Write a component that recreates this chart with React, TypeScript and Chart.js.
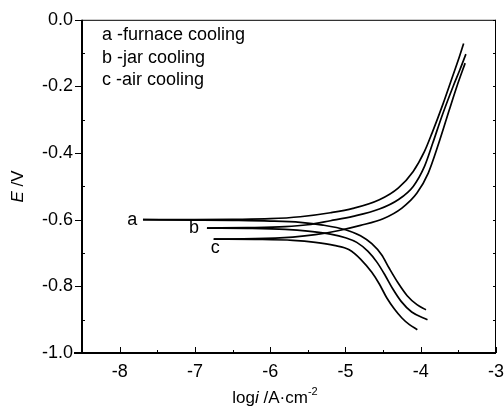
import React, { useEffect, useRef } from "react";
import { Chart, registerables } from "chart.js";

Chart.register(...registerables);

// x = log i (A/cm2), y = E (V)
const aAnodicX = [-7.69, -7.0, -6.5, -6.0, -5.6, -5.2, -4.9, -4.55, -4.3, -4.1, -3.95, -3.85, -3.7, -3.6, -3.5, -3.43];
const aAnodicY = [-0.6, -0.6, -0.599, -0.597, -0.591, -0.579, -0.566, -0.54, -0.505, -0.455, -0.395, -0.34, -0.25, -0.185, -0.12, -0.071];
const bAnodicX = [-6.84, -6.3, -5.8, -5.5, -5.2, -4.9, -4.55, -4.3, -4.1, -3.95, -3.84, -3.72, -3.57, -3.48, -3.4];
const bAnodicY = [-0.625, -0.624, -0.621, -0.615, -0.603, -0.59, -0.568, -0.54, -0.5, -0.44, -0.37, -0.29, -0.2, -0.15, -0.103];
const cAnodicX = [-6.75, -6.2, -5.7, -5.4, -5.1, -4.8, -4.5, -4.25, -4.05, -3.9, -3.76, -3.62, -3.52, -3.41];
const cAnodicY = [-0.658, -0.657, -0.652, -0.645, -0.633, -0.617, -0.597, -0.565, -0.52, -0.46, -0.37, -0.27, -0.2, -0.13];

const aCathodicX = [-7.69, -7.0, -6.5, -6.0, -5.6, -5.3, -5.0, -4.8, -4.65, -4.52, -4.42, -4.3, -4.18, -4.05, -3.93];
const aCathodicY = [-0.6, -0.601, -0.602, -0.604, -0.608, -0.616, -0.63, -0.648, -0.672, -0.705, -0.745, -0.79, -0.828, -0.855, -0.87];
const bCathodicX = [-6.84, -6.3, -5.8, -5.5, -5.2, -5.0, -4.85, -4.7, -4.58, -4.47, -4.37, -4.26, -4.12, -3.91];
const bCathodicY = [-0.625, -0.626, -0.629, -0.634, -0.643, -0.654, -0.668, -0.695, -0.728, -0.768, -0.808, -0.845, -0.877, -0.9];
const cCathodicX = [-6.75, -6.2, -5.7, -5.4, -5.15, -4.95, -4.8, -4.65, -4.55, -4.45, -4.35, -4.25, -4.15, -4.045];
const cCathodicY = [-0.658, -0.659, -0.662, -0.668, -0.677, -0.69, -0.718, -0.758, -0.793, -0.835, -0.868, -0.895, -0.915, -0.93];

const xTicks = [-8, -7, -6, -5, -4, -3];
const xMinorTicks = [-8.5, -7.5, -6.5, -5.5, -4.5, -3.5];
const yTicks = [0, -0.2, -0.4, -0.6, -0.8, -1.0];
const yMinorTicks = [-0.1, -0.3, -0.5, -0.7, -0.9];

const legendLines = ["a -furnace cooling", "b -jar cooling", "c -air cooling"];
const curveLabels = ["a", "b", "c"];
const curveLabelX = [-7.9, -7.08, -6.79];
const curveLabelY = [-0.617, -0.639, -0.699];

const FONT = "'Liberation Sans', Arial, sans-serif";

function toPoints(xs: number[], ys: number[]) {
  return xs.map((x, i) => ({ x, y: ys[i] }));
}

const decoPlugin = {
  id: "deco",
  afterDraw(chart: any) {
    const ctx = chart.ctx;
    const { left, right, top, bottom } = chart.chartArea;
    const xs = chart.scales.x;
    const ys = chart.scales.y;
    ctx.save();
    ctx.strokeStyle = "#000";
    ctx.lineCap = "butt";
    // frame
    ctx.lineWidth = 1;
    ctx.beginPath();
    ctx.moveTo(left, top + 0.5);
    ctx.lineTo(right, top + 0.5);
    ctx.moveTo(right - 0.5, top);
    ctx.lineTo(right - 0.5, bottom);
    ctx.stroke();
    ctx.lineWidth = 2;
    ctx.beginPath();
    ctx.moveTo(left - 8, bottom);
    ctx.lineTo(right, bottom);
    ctx.moveTo(left, top);
    ctx.lineTo(left, bottom + 1);
    ctx.stroke();
    // ticks
    ctx.lineWidth = 1;
    ctx.beginPath();
    xTicks.forEach((v) => {
      const px = Math.round(xs.getPixelForValue(v)) + 0.5;
      ctx.moveTo(px, bottom);
      ctx.lineTo(px, bottom - 6);
    });
    xMinorTicks.forEach((v) => {
      const px = Math.round(xs.getPixelForValue(v)) + 0.5;
      ctx.moveTo(px, bottom);
      ctx.lineTo(px, bottom - 3);
    });
    yTicks.forEach((v) => {
      const py = Math.round(ys.getPixelForValue(v)) + 0.5;
      ctx.moveTo(left, py);
      ctx.lineTo(left - 7, py);
      ctx.moveTo(right, py);
      ctx.lineTo(right - 3, py);
    });
    yMinorTicks.forEach((v) => {
      const py = Math.round(ys.getPixelForValue(v)) + 0.5;
      ctx.moveTo(left, py);
      ctx.lineTo(left + 3, py);
      ctx.moveTo(right, py);
      ctx.lineTo(right - 3, py);
    });
    ctx.stroke();

    // legend text
    ctx.fillStyle = "#000";
    ctx.font = "18px " + FONT;
    ctx.textAlign = "left";
    ctx.textBaseline = "alphabetic";
    legendLines.forEach((t, i) => {
      ctx.fillText(t, 102, 40 + i * 22.7);
    });
    // curve labels
    curveLabels.forEach((t, i) => {
      ctx.fillText(t, xs.getPixelForValue(curveLabelX[i]), ys.getPixelForValue(curveLabelY[i]));
    });

    // x title
    const base = 403;
    const parts = [
      { t: "log", f: "17px " + FONT, dy: 0 },
      { t: "i", f: "italic 17px " + FONT, dy: 0 },
      { t: " /A\u00b7cm", f: "17px " + FONT, dy: 0 },
      { t: "-2", f: "11px " + FONT, dy: -8 },
    ];
    let total = 0;
    parts.forEach((p) => {
      ctx.font = p.f;
      total += ctx.measureText(p.t).width;
    });
    let cx = 275 - total / 2;
    parts.forEach((p) => {
      ctx.font = p.f;
      ctx.fillText(p.t, cx, base + p.dy);
      cx += ctx.measureText(p.t).width;
    });

    // y title
    ctx.translate(23, (top + bottom) / 2);
    ctx.rotate(-Math.PI / 2);
    const yparts = [
      { t: "E", f: "italic 17px " + FONT },
      { t: " /V", f: "17px " + FONT },
    ];
    let yt = 0;
    yparts.forEach((p) => {
      ctx.font = p.f;
      yt += ctx.measureText(p.t).width;
    });
    let yx = -yt / 2;
    yparts.forEach((p) => {
      ctx.font = p.f;
      ctx.fillText(p.t, yx, 0);
      yx += ctx.measureText(p.t).width;
    });
    ctx.restore();
  },
};

export default function App() {
  const ref = useRef<HTMLCanvasElement | null>(null);
  useEffect(() => {
    if (!ref.current) return;
    const mk = (xs: number[], ys: number[]) => ({
      data: toPoints(xs, ys),
      borderColor: "#000",
      borderWidth: 1.7,
      pointRadius: 0,
      fill: false,
      cubicInterpolationMode: "monotone" as const,
    });
    const chart = new Chart(ref.current, {
      type: "line",
      data: {
        datasets: [
          mk(aAnodicX, aAnodicY),
          mk(bAnodicX, bAnodicY),
          mk(cAnodicX, cAnodicY),
          mk(aCathodicX, aCathodicY),
          mk(bCathodicX, bCathodicY),
          mk(cCathodicX, cCathodicY),
        ],
      },
      options: {
        animation: false,
        responsive: false,
        devicePixelRatio: 1,
        layout: { padding: { left: 0, right: 0, top: 16, bottom: 0 } },
        plugins: { legend: { display: false }, tooltip: { enabled: false } },
        scales: {
          x: {
            type: "linear",
            min: -8.5,
            max: -3,
            grid: { display: false, drawTicks: false },
            border: { display: false },
            afterBuildTicks: (s: any) => {
              s.ticks = xTicks.map((v) => ({ value: v }));
            },
            afterFit: (s: any) => {
              s.height = 55;
              s.paddingRight = 8;
              s.paddingLeft = 0;
            },
            ticks: {
              padding: 8,
              color: "#000",
              font: { family: FONT, size: 18 },
              maxRotation: 0,
              callback: (v: any) => String(v),
            },
          },
          y: {
            type: "linear",
            min: -1.0,
            max: 0,
            grid: { display: false, drawTicks: false },
            border: { display: false },
            afterBuildTicks: (s: any) => {
              s.ticks = yTicks.map((v) => ({ value: v }));
            },
            afterFit: (s: any) => {
              s.width = 82;
            },
            ticks: {
              padding: 9,
              color: "#000",
              font: { family: FONT, size: 18 },
              callback: (v: any) => (Math.abs(Number(v)) < 1e-9 ? "0.0" : Number(v).toFixed(1)),
            },
          },
        },
      },
      plugins: [decoPlugin],
    });
    return () => chart.destroy();
  }, []);
  return (
    <div style={{ position: "fixed", left: 0, top: 0, width: 504, height: 408, background: "#fff" }}>
      <canvas ref={ref} width={504} height={408} style={{ width: 504, height: 408, display: "block" }} />
    </div>
  );
}
